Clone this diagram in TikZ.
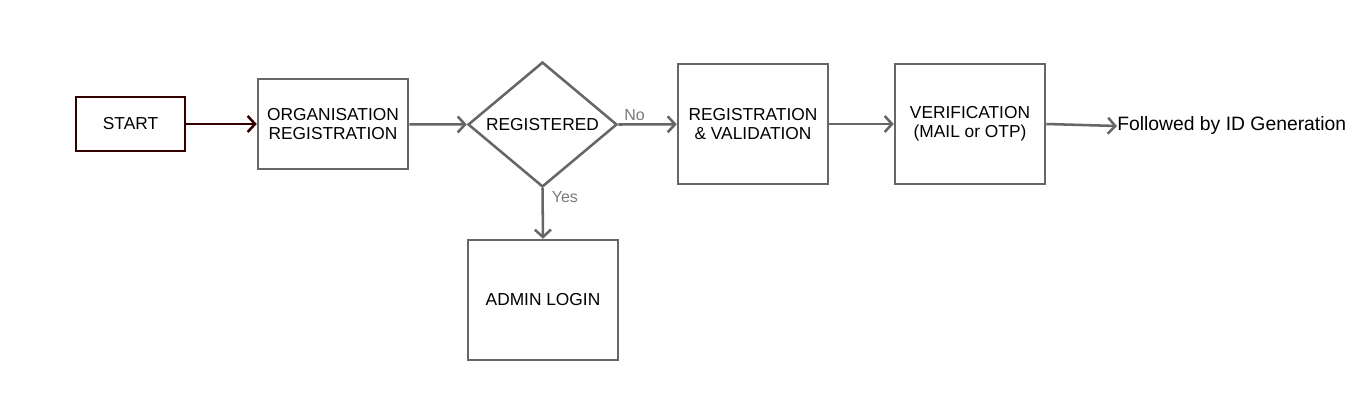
\documentclass[tikz,border=0pt]{standalone}
\usepackage{fontspec}
\setmainfont{Liberation Sans}
\usetikzlibrary{shapes.geometric,arrows.meta}
\definecolor{linegray}{HTML}{666666}
\definecolor{labelgray}{HTML}{7A7A7A}
\definecolor{maroon}{HTML}{330000}
\tikzset{
  box/.style={draw=linegray,line width=1.9pt,fill=white,align=center,inner sep=2pt,
    font=\fontsize{13}{14.5}\selectfont},
  flow/.style={draw=linegray,line width=1.9pt,-{Straight Barb[length=5.5pt,width=12pt]}},
  answer/.style={text=labelgray,font=\fontsize{12}{14}\selectfont,inner sep=0pt}
}
\begin{document}
\begin{tikzpicture}[x=0.75pt,y=-0.75pt]
\useasboundingbox (0,0) rectangle (1364,413);
\node (start) at (130.5,124) [box,draw=maroon,minimum width=81.75pt,minimum height=40.5pt]{START};
\node (org) at (333,124) [box,minimum width=112.5pt,minimum height=67.5pt]{ORGANISATION\\REGISTRATION};
\node (reg) at (542.5,124.5) [box,diamond,inner sep=0pt,minimum width=111.75pt,minimum height=89.25pt]{REGISTERED};
\node (regval) at (753,124) [box,minimum width=112.5pt,minimum height=90pt]{REGISTRATION\\\&\ VALIDATION};
\node (verif) at (970,124) [box,minimum width=112.5pt,minimum height=90pt]{VERIFICATION\\(MAIL or OTP)};
\node (admin) at (543,300) [box,minimum width=112.5pt,minimum height=90pt]{ADMIN LOGIN};
\node (idgen) at (1117,126) [anchor=west,inner sep=0pt,font=\fontsize{14.5}{17}\selectfont]{Followed by ID Generation};
\draw [flow,draw=maroon](start)--(org);
\draw [flow](org)--(reg.west);
\draw [flow](reg.east)--(regval) node[answer,pos=0.28,above=2pt]{No};
\draw [flow](reg.south)--(admin.north) node[answer,pos=0.18,right=6pt]{Yes};
\draw [flow](regval)--(verif);
\draw [flow](verif.east)--(idgen.west);
\end{tikzpicture}
\end{document}
